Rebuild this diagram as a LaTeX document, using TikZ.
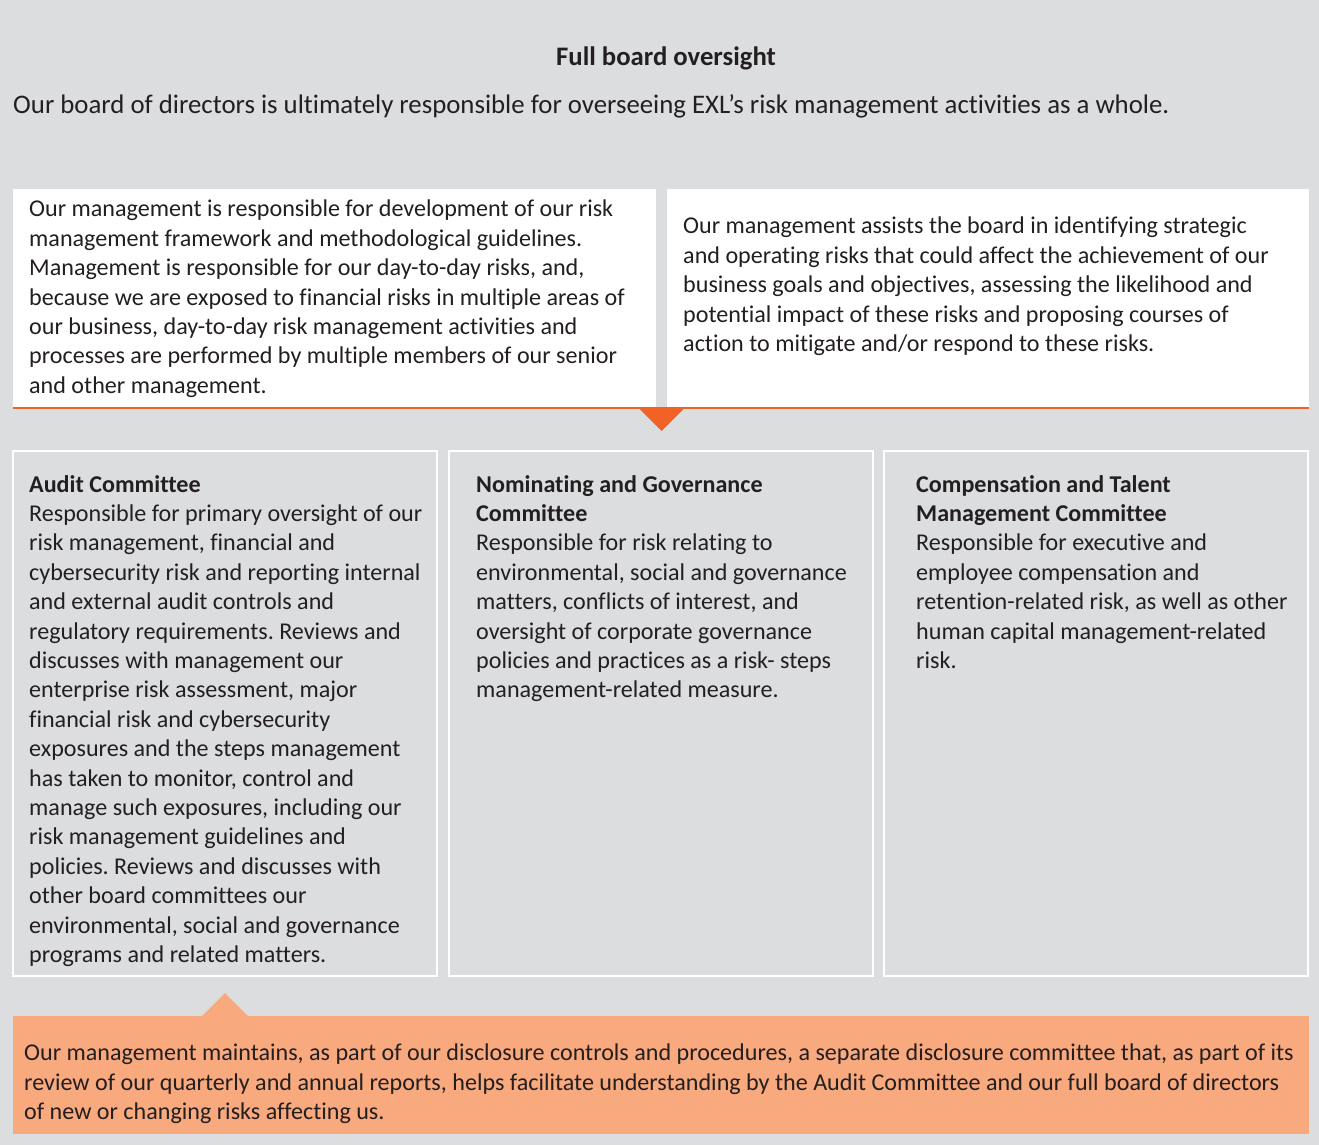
\documentclass[tikz,border=0pt]{standalone}
\usepackage{fontspec}
\setmainfont{Carlito}[Ligatures={NoCommon,NoContextual},Contextuals=NoAlternate]
\usetikzlibrary{positioning,calc}
\definecolor{boardgray}{HTML}{DCDDDF}
\definecolor{riskorange}{HTML}{F26125}
\definecolor{discpeach}{HTML}{F8A97E}
\definecolor{inktext}{HTML}{231F20}
\frenchspacing

\begin{document}
\begin{tikzpicture}[x=1pt,y=-1pt,
    font=\fontsize{24.1}{29.4}\selectfont,text=inktext,
    panel/.style={rectangle,inner sep=0pt,outer sep=0pt,anchor=north west},
    whitebox/.style={panel,fill=white,minimum height=219},
    combox/.style={panel,draw=white,line width=1.5pt,minimum width=424,minimum height=525},
    bodytext/.style={inner sep=0pt,anchor=north west,align=left},
    ]
    \fill[boardgray] (0,0) rectangle (1319,1145);
    \useasboundingbox (0,0) rectangle (1319,1145);

    % board level
    \node[font=\fontsize{26.7}{30}\selectfont\bfseries] (title) at (666,58) {Full board oversight};
    \node[bodytext,anchor=west,font=\fontsize{26.8}{30}\selectfont] (intro) at (13,106)
        {Our board of directors is ultimately responsible for overseeing EXL’s risk management activities as a whole.};

    % management
    \node[whitebox,minimum width=643] (mgmtL) at (13,189) {};
    \node[whitebox,minimum width=642] (mgmtR) at (667,189) {};
    \node[bodytext] (mgmtLtext) at ($(mgmtL.north west)+(16,11)$)
        {Our management is responsible for development of our risk\\
         management framework and methodological guidelines.\\
         Management is responsible for our day-to-day risks, and,\\
         because we are exposed to financial risks in multiple areas of\\
         our business, day-to-day risk management activities and\\
         processes are performed by multiple members of our senior\\
         and other management.};
    \node[bodytext] (mgmtRtext) at ($(mgmtR.north west)+(16,28)$)
        {Our management assists the board in identifying strategic\\
         and operating risks that could affect the achievement of our\\
         business goals and objectives, assessing the likelihood and\\
         potential impact of these risks and proposing courses of\\
         action to mitigate and/or respond to these risks.};
    \draw[riskorange,line width=1.5pt] (mgmtL.south west) -- (mgmtR.south east);
    \coordinate (downtip) at ($(mgmtL.south east)!.5!(mgmtR.south west)$);
    \fill[riskorange] (downtip) ++(-23,0) -- ++(46,0) -- ++(-23,23) -- cycle;

    % committees
    \node[combox] (audit) at (13,451) {};
    \node[combox,right=12pt of audit] (nomgov) {};
    \node[combox,right=11pt of nomgov] (comp) {};
    \node[bodytext] (audittext) at ($(audit.north west)+(16,24)$)
        {\textbf{Audit Committee}\\
         Responsible for primary oversight of our\\
         risk management, financial and\\
         cybersecurity risk and reporting internal\\
         and external audit controls and\\
         regulatory requirements. Reviews and\\
         discusses with management our\\
         enterprise risk assessment, major\\
         financial risk and cybersecurity\\
         exposures and the steps management\\
         has taken to monitor, control and\\
         manage such exposures, including our\\
         risk management guidelines and\\
         policies. Reviews and discusses with\\
         other board committees our\\
         environmental, social and governance\\
         programs and related matters.};
    \node[bodytext] (nomgovtext) at ($(nomgov.north west)+(27,24)$)
        {\textbf{Nominating and Governance}\\
         \textbf{Committee}\\
         Responsible for risk relating to\\
         environmental, social and governance\\
         matters, conflicts of interest, and\\
         oversight of corporate governance\\
         policies and practices as a risk- steps\\
         management-related measure.};
    \node[bodytext] (comptext) at ($(comp.north west)+(32,24)$)
        {\textbf{Compensation and Talent}\\
         \textbf{Management Committee}\\
         Responsible for executive and\\
         employee compensation and\\
         retention-related risk, as well as other\\
         human capital management-related\\
         risk.};

    % disclosure committee
    \node[panel,fill=discpeach,minimum width=1296,minimum height=118] (disc) at (13,1016) {};
    \coordinate (uptip) at ($(audit.south)+(0,17)$);
    \fill[discpeach] (uptip) -- ++(23,23) -- ++(-46,0) -- cycle;
    \node[bodytext] (disctext) at ($(disc.north west)+(11,28)$)
        {Our management maintains, as part of our disclosure controls and procedures, a separate disclosure committee that, as part of its\\
         review of our quarterly and annual reports, helps facilitate understanding by the Audit Committee and our full board of directors\\
         of new or changing risks affecting us.};
\end{tikzpicture}
\end{document}
